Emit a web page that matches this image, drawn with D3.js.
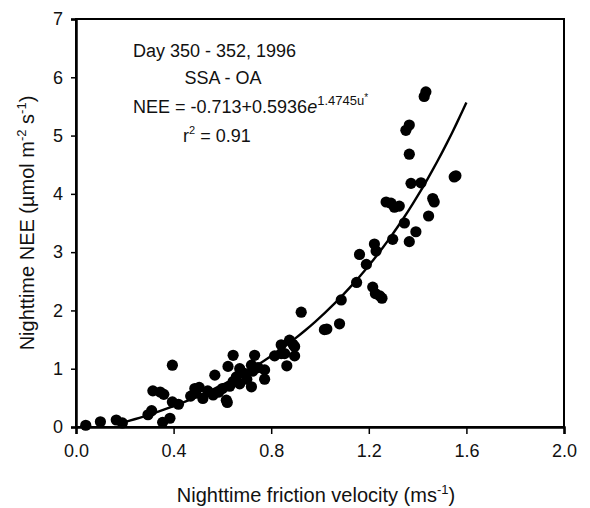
<!DOCTYPE html>
<html>
<head>
<meta charset="utf-8">
<script src="https://cdn.jsdelivr.net/npm/d3@7"></script>
<style>
  body { margin: 0; background: #fff; }
  text { font-family: Arial, "Liberation Sans", sans-serif; fill: #111; }
</style>
</head>
<body>
<div id="chart"></div>
<script>
// friction velocity u* (m/s) and nighttime NEE
const uStar = [
  0.04, 0.10, 0.165, 0.19, 0.295, 0.31, 0.315, 0.345, 0.36, 0.395, 0.355, 0.385, 0.395, 0.42, 0.47, 0.49,
  0.487, 0.505, 0.52, 0.54, 0.569, 0.562, 0.585, 0.60, 0.616, 0.62, 0.623, 0.644, 0.63, 0.644, 0.657,
  0.671, 0.671, 0.69, 0.70, 0.719, 0.719, 0.732, 0.725, 0.746, 0.773, 0.773, 0.814, 0.841, 0.841, 0.855,
  0.864, 0.875, 0.889, 0.896, 0.896, 0.923,
  1.018, 1.028, 1.08, 1.087, 1.15, 1.162, 1.19, 1.223, 1.23, 1.216, 1.227, 1.254, 1.245,
  1.271, 1.291, 1.305, 1.325, 1.298, 1.346, 1.366, 1.393, 1.366, 1.373, 1.414, 1.352, 1.366,
  1.427, 1.434, 1.445, 1.462, 1.468, 1.55, 1.557
];
const nee = [
  0.03, 0.09, 0.12, 0.07, 0.21, 0.28, 0.62, 0.60, 0.56, 1.06, 0.08, 0.15, 0.43, 0.39, 0.53, 0.58,
  0.66, 0.68, 0.49, 0.62, 0.89, 0.55, 0.60, 0.66, 0.46, 0.42, 1.04, 1.23, 0.70, 0.78, 0.86,
  1.00, 0.74, 0.92, 0.82, 0.69, 1.06, 1.23, 0.96, 1.02, 0.98, 0.82, 1.22, 1.41, 1.26, 1.26,
  1.05, 1.49, 1.42, 1.38, 1.22, 1.97,
  1.67, 1.68, 1.77, 2.18, 2.48, 2.96, 2.79, 3.14, 3.02, 2.40, 2.29, 2.21, 2.25,
  3.86, 3.84, 3.77, 3.79, 3.22, 3.50, 3.18, 3.35, 4.68, 4.18, 4.19, 5.09, 5.18,
  5.67, 5.75, 3.62, 3.92, 3.86, 4.29, 4.31
];

// fitted curve NEE = a + b*exp(c*u), coefficients as printed on the chart
const fitCoef = [-0.713, 0.5936, 1.4745];
const fitRange = [0.2, 1.6];

const xTicks = [0, 0.4, 0.8, 1.2, 1.6, 2.0];
const yTicks = [0, 1, 2, 3, 4, 5, 6, 7];

const margin = {top: 19, right: 26, bottom: 81, left: 76},
    width = 590 - margin.left - margin.right,
    height = 508 - margin.top - margin.bottom;

const svg = d3.select("#chart").append("svg")
    .attr("width", 590).attr("height", 508);
const g = svg.append("g").attr("transform", `translate(${margin.left},${margin.top})`);

const x = d3.scaleLinear().domain([0, 2]).range([0, width]);
const y = d3.scaleLinear().domain([0, 7]).range([height, 0]);

// frame
g.append("rect").attr("width", width).attr("height", height)
  .attr("fill", "none").attr("stroke", "#000").attr("stroke-width", 2);

const xAxis = g.append("g").attr("transform", `translate(0,${height})`)
  .call(d3.axisBottom(x).tickValues(xTicks).tickFormat(d3.format(".1f")).tickSize(7).tickPadding(6));
const yAxis = g.append("g")
  .call(d3.axisLeft(y).tickValues(yTicks).tickFormat(d3.format("d")).tickSize(5).tickPadding(8));
[xAxis, yAxis].forEach(a => {
  a.select(".domain").attr("stroke-width", 2.5);
  a.selectAll(".tick line").attr("stroke-width", 1.5);
  a.selectAll(".tick text").attr("font-size", 18).attr("font-family", "Arial, 'Liberation Sans', sans-serif").attr("fill", "#111");
});
xAxis.selectAll(".tick text").attr("dy", "0.95em");

// points
const pts = uStar.map((u, i) => ({u, v: nee[i]}));
g.selectAll("circle.pt").data(pts).enter().append("circle")
  .attr("class", "pt")
  .attr("cx", d => x(d.u)).attr("cy", d => y(d.v))
  .attr("r", 5.6).attr("fill", "#000");

// fit line
const fitPts = d3.range(fitRange[0], fitRange[1] + 1e-9, 0.02)
  .map(u => [u, fitCoef[0] + fitCoef[1] * Math.exp(fitCoef[2] * u)]);
g.append("path").datum(fitPts)
  .attr("fill", "none").attr("stroke", "#000").attr("stroke-width", 2.4)
  .attr("d", d3.line().x(d => x(d[0])).y(d => y(d[1])));

// annotations
const ann = svg.append("g").attr("font-size", 18);
ann.append("text").attr("x", 133).attr("y", 57).text("Day 350 - 352, 1996");
ann.append("text").attr("x", 223).attr("y", 84).attr("text-anchor", "middle").text("SSA - OA");
const eq = ann.append("text").attr("x", 133).attr("y", 113);
eq.append("tspan").text("NEE = -0.713+0.5936");
eq.append("tspan").attr("font-style", "italic").text("e");
eq.append("tspan").attr("dy", -8).attr("font-size", 13).text("1.4745u");
eq.append("tspan").attr("dy", -4).attr("font-size", 10).text("*");
const r2 = ann.append("text").attr("x", 183).attr("y", 142);
r2.append("tspan").text("r");
r2.append("tspan").attr("dy", -8).attr("font-size", 11).text("2");
r2.append("tspan").attr("dy", 8).text(" = 0.91");

// axis titles
const xt = svg.append("text").attr("x", margin.left + width / 2 - 4).attr("y", 502)
  .attr("text-anchor", "middle").attr("font-size", 20);
xt.append("tspan").text("Nighttime friction velocity (ms");
xt.append("tspan").attr("dy", -8).attr("font-size", 13).text("-1");
xt.append("tspan").attr("dy", 8).text(")");

const yt = svg.append("text")
  .attr("transform", `translate(34,${margin.top + height / 2}) rotate(-90)`)
  .attr("text-anchor", "middle").attr("font-size", 20);
yt.append("tspan").text("Nighttime NEE (\u00b5mol m");
yt.append("tspan").attr("dy", -8).attr("font-size", 13).text("-2");
yt.append("tspan").attr("dy", 8).text(" s");
yt.append("tspan").attr("dy", -8).attr("font-size", 13).text("-1");
yt.append("tspan").attr("dy", 8).text(")");
</script>
</body>
</html>
